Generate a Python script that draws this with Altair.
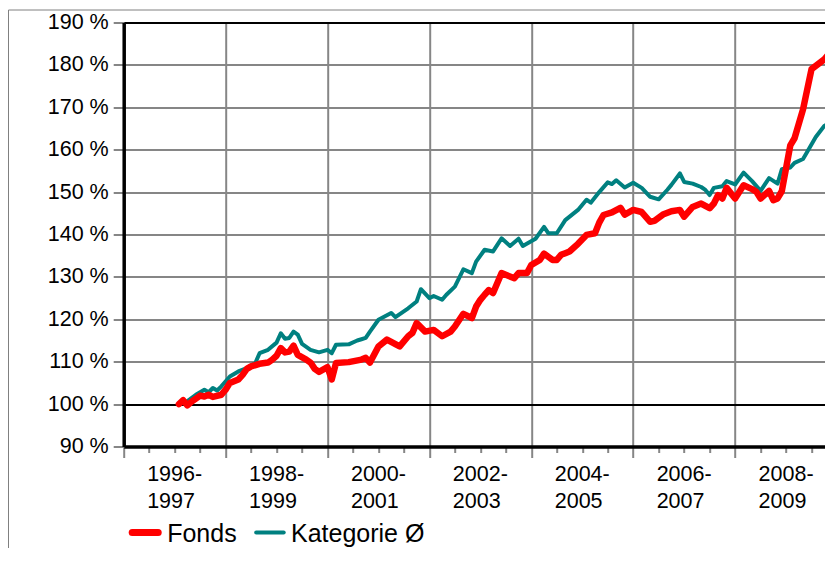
import altair as alt
import pandas as pd

FONT = "Liberation Sans"
RED = "#FF0000"
TEAL = "#008080"
GRID = "#868686"

series_names = ["Fonds", "Kategorie Ø"]

fonds_months = [
    "1997-02", "1997-03", "1997-04", "1997-05", "1997-07", "1997-08", "1997-09", "1997-10", "1997-12",
    "1998-01", "1998-02", "1998-04", "1998-05", "1998-06", "1998-07", "1998-09", "1998-11", "1998-12",
    "1999-01", "1999-02", "1999-03", "1999-04", "1999-05", "1999-06", "1999-08", "1999-09", "1999-10", "1999-11",
    "2000-01", "2000-02", "2000-03", "2000-06", "2000-09", "2000-10", "2000-11",
    "2001-01", "2001-03", "2001-06", "2001-08", "2001-09", "2001-10", "2001-12",
    "2002-02", "2002-04", "2002-06", "2002-07", "2002-09", "2002-11", "2002-12",
    "2003-01", "2003-02", "2003-03", "2003-04", "2003-06", "2003-09", "2003-10", "2003-12",
    "2004-01", "2004-03", "2004-04", "2004-06", "2004-07", "2004-08", "2004-09", "2004-10", "2004-12",
    "2005-02", "2005-04", "2005-05", "2005-06", "2005-08", "2005-10", "2005-11",
    "2006-01", "2006-03", "2006-05", "2006-06", "2006-08", "2006-10", "2006-12",
    "2007-01", "2007-03", "2007-05", "2007-07", "2007-08", "2007-09", "2007-10", "2007-11",
    "2008-01", "2008-03", "2008-05", "2008-06", "2008-07", "2008-09", "2008-10", "2008-11", "2008-12",
    "2009-02", "2009-03", "2009-05", "2009-07", "2009-10", "2009-12",
]
fonds_values = [
    100.0, 100.9, 99.7, 100.6, 102.0, 101.8, 102.2, 101.7, 102.2,
    103.4, 105.0, 105.8, 106.9, 108.3, 108.9, 109.5, 109.8, 110.5,
    111.4, 113.2, 112.2, 112.4, 113.8, 111.6, 110.5, 109.8, 108.3, 107.6,
    108.7, 105.8, 109.7, 109.9, 110.5, 110.9, 109.8,
    113.6, 115.2, 113.6, 116.0, 116.8, 119.1, 117.1,
    117.5, 116.0, 117.1, 118.3, 121.3, 120.3, 123.0,
    124.6, 125.8, 126.9, 126.2, 130.9, 129.7, 130.9, 130.9,
    132.8, 134.0, 135.5, 134.0, 134.0, 135.2, 135.6, 136.0, 137.8,
    139.9, 140.3, 142.8, 144.6, 145.2, 146.3, 144.7,
    145.8, 145.3, 143.0, 143.2, 144.7, 145.5, 145.8,
    144.2, 146.5, 147.3, 146.2, 147.3, 149.3, 148.5, 151.0,
    148.5, 151.6, 150.7, 150.1, 148.5, 150.3, 148.1, 148.5, 150.2,
    161.0, 162.7, 169.5, 179.0, 181.3, 183.6,
]

kat_months = [
    "1997-02", "1997-04", "1997-06", "1997-08", "1997-09", "1997-10", "1997-11", "1997-12",
    "1998-02", "1998-04", "1998-06", "1998-08", "1998-09", "1998-11",
    "1999-01", "1999-02", "1999-03", "1999-04", "1999-05", "1999-06", "1999-07", "1999-09", "1999-11",
    "2000-01", "2000-02", "2000-03", "2000-06", "2000-08", "2000-09", "2000-10", "2000-11",
    "2001-01", "2001-04", "2001-05", "2001-08", "2001-10", "2001-11",
    "2002-01", "2002-02", "2002-04", "2002-05", "2002-07", "2002-09", "2002-11", "2002-12",
    "2003-02", "2003-04", "2003-06", "2003-08", "2003-10", "2003-11",
    "2004-02", "2004-04", "2004-05", "2004-07", "2004-09", "2004-12",
    "2005-02", "2005-03", "2005-05", "2005-07", "2005-08", "2005-09", "2005-11",
    "2006-01", "2006-03", "2006-05", "2006-07", "2006-09", "2006-10", "2006-12",
    "2007-01", "2007-03", "2007-05", "2007-06", "2007-07", "2007-08", "2007-10", "2007-11",
    "2008-01", "2008-03", "2008-05", "2008-07", "2008-09", "2008-11", "2008-12",
    "2009-02", "2009-03", "2009-05", "2009-06", "2009-08", "2009-10", "2009-12",
]
kat_values = [
    100.0, 100.7, 102.2, 103.4, 102.8, 103.8, 103.2, 104.2,
    106.5, 107.7, 108.5, 109.7, 112.0, 112.8,
    114.5, 116.7, 115.4, 115.6, 117.1, 116.4, 114.2, 112.8, 112.2,
    112.8, 112.0, 114.0, 114.1, 115.0, 115.3, 115.6, 117.1,
    119.9, 121.5, 120.5, 122.6, 124.2, 127.1,
    125.0, 125.5, 124.6, 125.8, 127.7, 131.8, 130.9, 133.6,
    136.4, 136.0, 139.1, 137.3, 139.0, 137.3,
    139.0, 141.8, 140.3, 140.3, 143.4, 145.8,
    148.2, 147.5, 150.0, 152.3, 151.9, 152.8, 151.1,
    152.2, 151.0, 148.9, 148.3, 150.5, 151.7, 154.4,
    152.4, 152.0, 151.2, 150.5, 149.3, 151.0, 151.4, 152.6,
    151.8, 154.6, 152.6, 150.3, 153.3, 152.0, 155.4,
    155.8, 156.9, 157.8, 159.5, 163.0, 165.6, 166.8,
]

y_ticks = [90, 100, 110, 120, 130, 140, 150, 160, 170, 180, 190]
x_ticks = [1996 + i * 0.5 for i in range(28)]


def frame(months, values, name):
    d = pd.DataFrame({"month": months, "value": values})
    dt = pd.to_datetime(d["month"], format="%Y-%m")
    d["t"] = dt.dt.year + (dt.dt.month - 1) / 12
    d["series"] = name
    return d


fonds_df = frame(fonds_months, fonds_values, series_names[0])
kat_df = frame(kat_months, kat_values, series_names[1])
leg_df = pd.DataFrame({"series": series_names})

# The visible plot area stops at the window edge; the series run a little past it.
x_scale = alt.Scale(domain=[1996, 2009.7645], nice=False, zero=False)
y_scale = alt.Scale(domain=[90, 190], nice=False, zero=False)

x_axis = alt.Axis(
    values=x_ticks, title=None, grid=True,
    gridColor={"condition": {"test": "datum.value % 2 === 0 && datum.value > 1996", "value": GRID},
               "value": "transparent"},
    gridWidth=2,
    tickSize={"condition": {"test": "datum.value % 2 === 0", "value": 11}, "value": 6},
    tickColor=GRID, tickWidth=2,
    domainColor="black", domainWidth=3.5,
    labelExpr="datum.value % 2 === 1 ? [toString(datum.value - 1) + '-', toString(datum.value)] : ''",
    labelAlign="left", labelOffset=-28, labelPadding=11, labelBaseline="top",
    labelFont=FONT, labelFontSize=21.5, labelColor="black", labelLineHeight=27,
    labelOverlap=False, labelFlush=False, labelBound=False,
)
y_axis = alt.Axis(
    values=y_ticks, title=None, grid=True,
    gridColor={"condition": {"test": "datum.value === 100 || datum.value === 190", "value": "black"},
               "value": GRID},
    gridWidth=2, tickSize=10.5, tickColor=GRID, tickWidth=2,
    domainColor="black", domainWidth=3.5,
    labelExpr="datum.value + ' %'", labelFont=FONT, labelFontSize=21.5, labelColor="black",
    labelPadding=5, labelFlush=False, labelOverlap=False,
)

teal = alt.Chart(kat_df).mark_line(
    color=TEAL, strokeWidth=4, strokeJoin="round", strokeCap="round"
).encode(
    x=alt.X("t:Q", scale=x_scale, axis=x_axis),
    y=alt.Y("value:Q", scale=y_scale, axis=y_axis),
)
red = alt.Chart(fonds_df).mark_line(
    color=RED, strokeWidth=6.5, strokeJoin="round", strokeCap="round"
).encode(
    x=alt.X("t:Q", scale=x_scale, axis=x_axis),
    y=alt.Y("value:Q", scale=y_scale, axis=y_axis),
)

# outer frame (left and top edges)
frame_left = alt.Chart(leg_df.head(1)).mark_rule(color="#808080", strokeWidth=1).encode(
    x=alt.value(-115.2), y=alt.value(-12.5), y2=alt.value(560))
frame_top = alt.Chart(leg_df.head(1)).mark_rule(color="#808080", strokeWidth=1).encode(
    x=alt.value(-115.2), x2=alt.value(720), y=alt.value(-12.5))

# legend (kept fully inside the page)
LEG_SYM_Y = 510
LEG_BASE_Y = 519
fonds_leg = leg_df[leg_df["series"] == series_names[0]]
kat_leg = leg_df[leg_df["series"] == series_names[1]]
leg_sym1 = alt.Chart(fonds_leg).mark_rule(color=RED, strokeWidth=7, strokeCap="round").encode(
    x=alt.value(8.5), x2=alt.value(34.5), y=alt.value(LEG_SYM_Y))
leg_txt1 = alt.Chart(fonds_leg).mark_text(
    align="left", baseline="alphabetic", font=FONT, fontSize=25, color="black").encode(
    text="series:N", x=alt.value(43.5), y=alt.value(LEG_BASE_Y))
leg_sym2 = alt.Chart(kat_leg).mark_rule(color=TEAL, strokeWidth=4, strokeCap="round").encode(
    x=alt.value(132.5), x2=alt.value(160), y=alt.value(LEG_SYM_Y))
leg_txt2 = alt.Chart(kat_leg).mark_text(
    align="left", baseline="alphabetic", font=FONT, fontSize=25, color="black").encode(
    text="series:N", x=alt.value(167.3), y=alt.value(LEG_BASE_Y))

chart = alt.layer(
    frame_left, frame_top, teal, red, leg_sym1, leg_txt1, leg_sym2, leg_txt2
).properties(
    width=701.3, height=424,
    padding={"left": 115.7, "top": 14.5, "right": 0, "bottom": 101.5},
    autosize=alt.AutoSizeParams(type="none"),
).configure_view(stroke=None).configure(background="white")

chart.save("out.html", embed_options={"renderer": "svg", "actions": False})
